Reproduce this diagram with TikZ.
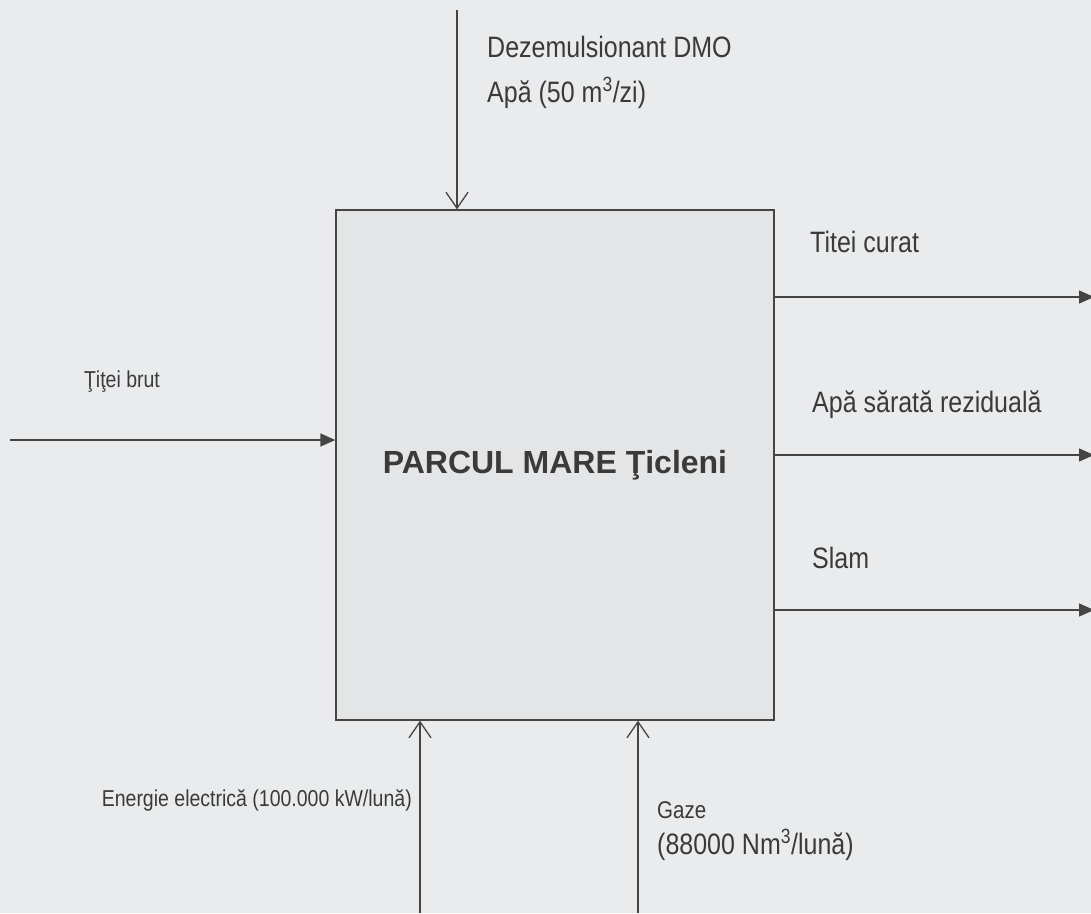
\documentclass[tikz,border=0pt]{standalone}
\usepackage{fontspec}
\setmainfont{Liberation Sans}
\usetikzlibrary{arrows.meta}
\definecolor{paper}{HTML}{E9EBED}
\definecolor{boxfill}{HTML}{E3E5E7}
\definecolor{ink}{HTML}{454545}
\definecolor{txt}{HTML}{3A3A3A}
\newcommand{\tallt}[1]{\scalebox{1}[1.18]{#1}}
\tikzset{
  line/.style={draw=ink, line width=1.3pt},
  inarrow/.style={line, -{Straight Barb[length=16pt,width=22pt,line width=1.3pt]}},
  outarrow/.style={line, -{Triangle[length=15pt,width=13pt]}},
  big/.style={font=\fontsize{25}{28}\selectfont, text=txt, inner sep=0pt},
  small/.style={font=\fontsize{19.5}{22}\selectfont, text=txt, inner sep=0pt},
  gaz/.style={font=\fontsize{20.5}{23}\selectfont, text=txt, inner sep=0pt},
  mainbox/.style={line, fill=boxfill, minimum width=438pt, minimum height=510pt, inner sep=0pt,
     font=\fontsize{32}{36}\selectfont\bfseries, text=txt}
}
\begin{document}
\begin{tikzpicture}[x=1pt,y=-1pt]
\fill[paper] (0,0) rectangle (1091,913);
\useasboundingbox (0,0) rectangle (1091,913);
\clip (0,0) rectangle (1091,913);

\node[mainbox] (box) at (555,465) {PARCUL MARE Ţicleni};

% top input
\coordinate (tin) at (457,10);
\draw[inarrow] (tin) -- (tin |- box.north);
\node[big, anchor=west] (dmo) at (487,47) {\tallt{Dezemulsionant DMO}};
\node[big, anchor=west] (apa) at (487,93) {\tallt{Apă (50 m\textsuperscript{3}/zi)}};

% left input
\coordinate (lin) at (10,440);
\draw[outarrow] (lin) -- (lin -| box.west);
\node[small] (titeibrut) at (122,382) {\tallt{Ţiţei brut}};

% right outputs
\coordinate (o1) at (1094,297);
\coordinate (o2) at (1094,455);
\coordinate (o3) at (1094,610);
\draw[outarrow] (o1 -| box.east) -- (o1);
\draw[outarrow] (o2 -| box.east) -- (o2);
\draw[outarrow] (o3 -| box.east) -- (o3);
\node[big, anchor=west] (l1) at (810,242) {\tallt{Titei curat}};
\node[big, anchor=west] (l2) at (812,405) {\tallt{Apă sărată reziduală}};
\node[big, anchor=west] (l3) at (812,558) {\tallt{Slam}};

% bottom inputs
\coordinate (b1) at (420,913);
\coordinate (b2) at (638,913);
\draw[inarrow] (b1) -- (b1 |- box.south);
\draw[inarrow] (b2) -- (b2 |- box.south);
\node[small, anchor=east] (en) at (412,800) {\tallt{Energie electrică (100.000 kW/lună)}};
\node[gaz, anchor=west] (gz) at (657,810) {\tallt{Gaze}};
\node[big, anchor=west] (gzq) at (657,845) {\tallt{(88000 Nm\textsuperscript{3}/lună)}};
\end{tikzpicture}
\end{document}
